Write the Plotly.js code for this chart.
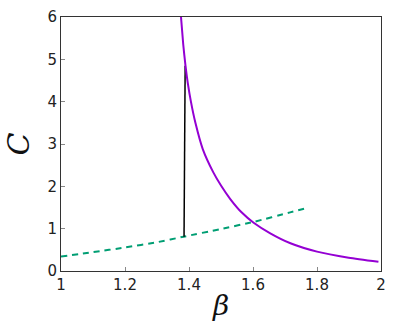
<!DOCTYPE html>
<html>
<head>
<meta charset="utf-8">
<script src="https://cdn.plot.ly/plotly-3.0.1.min.js"></script>
<style>html,body{margin:0;padding:0;background:#fff;}</style>
</head>
<body>
<div id="chart" style="width:415px;height:322px;"></div>
<script>
// Purple curve (descending)
const purpleBeta = [1.375, 1.382, 1.389, 1.396, 1.406, 1.420, 1.443, 1.476, 1.500, 1.529, 1.565, 1.602, 1.654, 1.717, 1.800, 1.899, 1.992];
const purpleC    = [6.00, 5.35, 4.85, 4.45, 4.00, 3.50, 2.88, 2.33, 2.02, 1.70, 1.38, 1.14, 0.89, 0.655, 0.458, 0.315, 0.22];
// Green dashed curve (ascending)
const greenBeta = [1.000, 1.100, 1.200, 1.300, 1.383, 1.498, 1.602, 1.716, 1.763];
const greenC    = [0.34, 0.445, 0.555, 0.68, 0.81, 0.99, 1.16, 1.385, 1.475];
// Black vertical jump
const blackBeta = [1.3845, 1.388];
const blackC    = [0.81, 4.85];

const traces = [
  {x: greenBeta, y: greenC, mode: 'lines', line: {color: '#009e73', width: 2, dash: '6px,5px', shape: 'spline', smoothing: 0.5}, hoverinfo: 'none'},
  {x: blackBeta, y: blackC, mode: 'lines', line: {color: '#000000', width: 1.5}, hoverinfo: 'none'},
  {x: purpleBeta, y: purpleC, mode: 'lines', line: {color: '#9400d3', width: 2, shape: 'spline', smoothing: 0.6}, hoverinfo: 'none'}
];

const axisCommon = {
  showgrid: false, zeroline: false, showline: true, mirror: true,
  linecolor: '#333', linewidth: 1,
  ticks: 'inside', ticklen: 4, tickcolor: '#888', tickwidth: 1,
  tickfont: {family: 'DejaVu Sans, Arial, sans-serif', size: 15, color: '#222'}
};

const layout = {
  width: 415, height: 322,
  margin: {l: 61, r: 34, t: 17, b: 51},
  paper_bgcolor: '#fff', plot_bgcolor: '#fff',
  showlegend: false,
  xaxis: Object.assign({}, axisCommon, {
    range: [1, 2], tickvals: [1, 1.2, 1.4, 1.6, 1.8, 2], ticktext: ['1', '1.2', '1.4', '1.6', '1.8', '2'],
    title: {text: '<i>β</i>', font: {family: 'DejaVu Serif, serif', size: 28, color: '#111'}, standoff: 2}
  }),
  yaxis: Object.assign({}, axisCommon, {
    range: [0, 6], tickvals: [0, 1, 2, 3, 4, 5, 6],
    title: {text: '<i>C</i>', font: {family: 'DejaVu Serif, serif', size: 30, color: '#111'}, standoff: 8}
  })
};

Plotly.newPlot('chart', traces, layout, {staticPlot: true, displayModeBar: false});
</script>
</body>
</html>
